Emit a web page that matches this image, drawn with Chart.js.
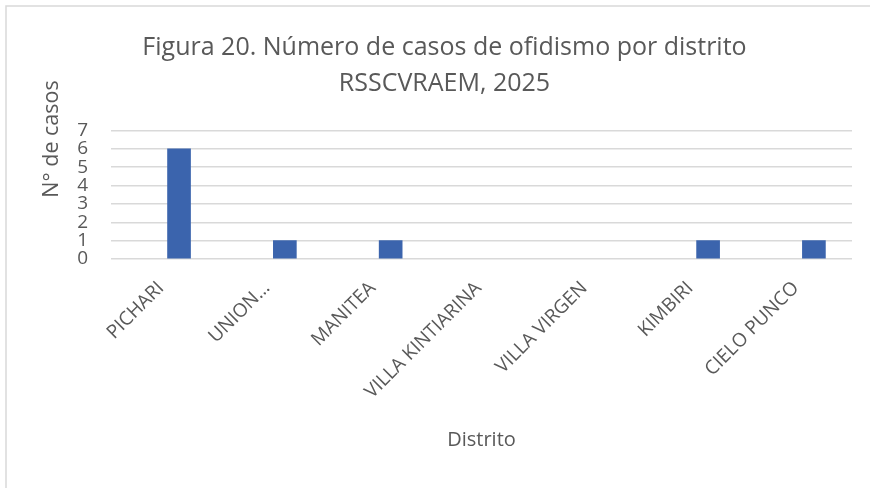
<!DOCTYPE html>
<html>
<head>
<meta charset="utf-8">
<script src="https://cdn.jsdelivr.net/npm/chart.js@4.4.1/dist/chart.umd.min.js"></script>
<style>
  body { margin: 0; background: #fff; }
  canvas { display: block; }
</style>
</head>
<body>
<canvas id="chart" width="870" height="488"></canvas>
<script>
// data
var distritos = ["PICHARI", "UNION…", "MANITEA", "VILLA KINTIARINA", "VILLA VIRGEN", "KIMBIRI", "CIELO PUNCO"];
var casos = [6, 1, 1, 0, 0, 1, 1];
var yTicks = [0, 1, 2, 3, 4, 5, 6, 7];

var gris = '#595959';
var fuente = '"Open Sans", "Liberation Sans", sans-serif';

// marco y titulo del eje Y
var extras = {
  id: 'extras',
  beforeDraw: function(chart) {
    var ctx = chart.ctx;
    ctx.save();
    ctx.fillStyle = '#fff';
    ctx.fillRect(0, 0, chart.width, chart.height);
    ctx.strokeStyle = '#d9d9d9';
    ctx.lineWidth = 1.5;
    ctx.beginPath();
    ctx.moveTo(6, chart.height + 5);
    ctx.lineTo(6, 6);
    ctx.lineTo(chart.width + 5, 6);
    ctx.stroke();
    ctx.restore();
  },
  afterDraw: function(chart) {
    var ctx = chart.ctx;
    ctx.save();
    ctx.translate(52, 139);
    ctx.rotate(-Math.PI / 2);
    ctx.font = '21.5px ' + fuente;
    ctx.fillStyle = gris;
    ctx.textAlign = 'center';
    ctx.textBaseline = 'middle';
    ctx.fillText('N° de casos', 0, 0);
    ctx.restore();
  }
};

var chart = new Chart(document.getElementById('chart'), {
  type: 'bar',
  data: {
    datasets: [{
      data: casos.map(function(v, i) { return { x: i, y: v }; }),
      backgroundColor: function(c) { return c.raw && c.raw.y > 0 ? '#3B64AD' : 'rgba(0,0,0,0)'; },
      barThickness: 23
    }]
  },
  plugins: [extras],
  options: {
    responsive: false,
    animation: false,
    layout: { padding: { left: 37, right: 18, top: 0, bottom: 32 } },
    plugins: {
      legend: { display: false },
      tooltip: { enabled: false },
      title: {
        display: true,
        text: ['Figura 20. Número de casos de ofidismo por distrito', 'RSSCVRAEM, 2025'],
        color: gris,
        font: { family: fuente, size: 25, weight: 'normal', lineHeight: 1.43 },
        padding: { top: 30, bottom: 29 }
      }
    },
    scales: {
      x: {
        type: 'linear',
        offset: false,
        min: -0.643,
        max: 6.36,
        // etiquetas algo a la izquierda del centro de la barra, como en Excel
        afterBuildTicks: function(scale) {
          scale.ticks = distritos.map(function(d, i) { return { value: i - 0.17 }; });
        },
        afterFit: function(scale) { scale.height = 197; },
        grid: { display: false },
        border: { display: false },
        ticks: {
          autoSkip: false,
          maxRotation: 45,
          minRotation: 45,
          padding: 10,
          color: gris,
          font: { family: fuente, size: 19 },
          callback: function(v) { return distritos[Math.round(v)]; }
        },
        title: {
          display: true,
          text: 'Distrito',
          color: gris,
          font: { family: fuente, size: 20 }
        }
      },
      y: {
        min: 0,
        max: 7,
        afterBuildTicks: function(scale) {
          scale.ticks = yTicks.map(function(v) { return { value: v }; });
        },
        afterFit: function(scale) { scale.width = 74; },
        grid: { color: '#d9d9d9', lineWidth: 1.5, drawTicks: false },
        border: { display: false },
        ticks: {
          autoSkip: false,
          padding: 23,
          color: gris,
          font: { family: fuente, size: 19 }
        }
      }
    }
  }
});
</script>
</body>
</html>
